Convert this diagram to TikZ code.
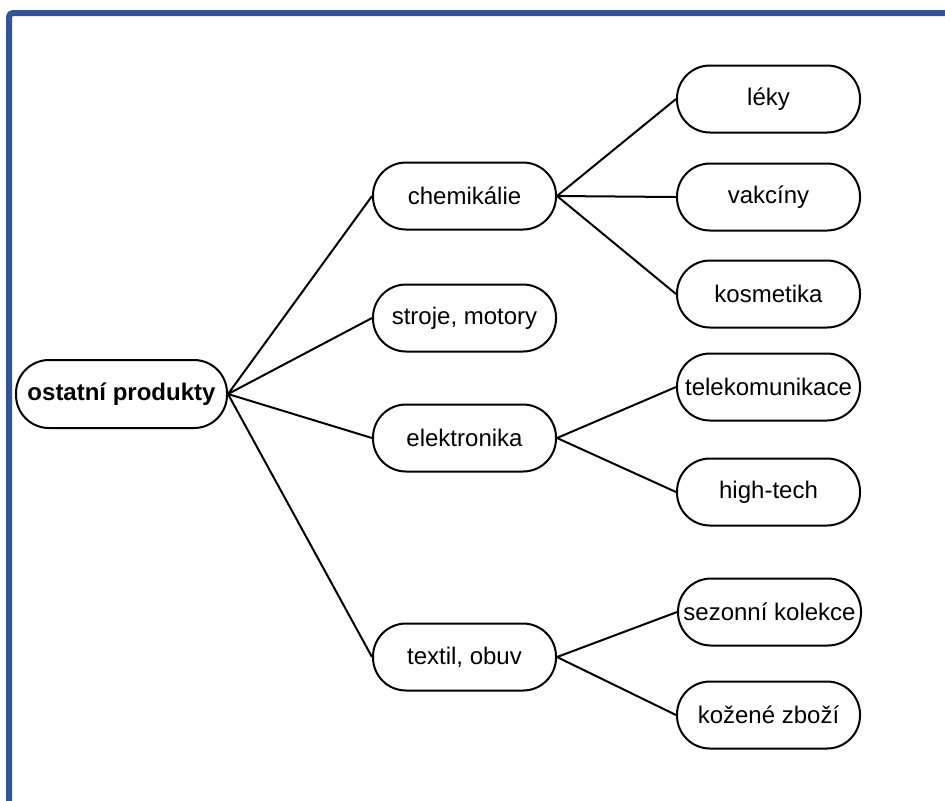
\documentclass[tikz,border=0pt]{standalone}
\usepackage{fontspec}
\setmainfont{Liberation Sans}
\definecolor{framblue}{RGB}{47,85,151}
\begin{document}
\begin{tikzpicture}[x=0.5pt, y=-0.5pt, box_style/.style={draw=black, line width=1pt, fill=white, rounded corners=16.5pt, minimum width=91.5pt, minimum height=33.5pt, inner sep=0pt, font=\fontsize{12}{14}\selectfont}, root_style/.style={box_style, minimum width=105.5pt, minimum height=34pt, font=\fontsize{12}{14}\selectfont\bfseries}, edge_style/.style={draw=black, line width=1pt}, frame_style/.style={draw=framblue, line width=3pt, rounded corners=2pt}]
      \clip (0,0) rectangle (945,800);
      \draw[frame_style] (9,830) -- (9,13) -- (960,13);
      \draw
        (121.5, 394) node[root_style] (root){ostatní produkty}
        (464.5, 196) node[box_style] (chem){chemikálie}
        (464.5, 318) node[box_style] (stroje){stroje, motory}
        (464.5, 438) node[box_style] (elektro){elektronika}
        (464.5, 657) node[box_style] (textil){textil, obuv}
        (768.5, 99) node[box_style] (leky){léky}
        (768.5, 197) node[box_style] (vakciny){vakcíny}
        (768.5, 294) node[box_style] (kosmetika){kosmetika}
        (768.5, 387) node[box_style] (telekom){telekomunikace}
        (768.5, 492) node[box_style] (hightech){high-tech}
        (769.5, 612) node[box_style] (sezon){sezonní kolekce}
        (768.5, 715) node[box_style] (kozene){kožené zboží};
      \begin{scope}[-]
        \draw[edge_style] (root.east) -- (chem.west);
        \draw[edge_style] (root.east) -- (stroje.west);
        \draw[edge_style] (root.east) -- (elektro.west);
        \draw[edge_style] (root.east) -- (textil.west);
        \draw[edge_style] (chem.east) -- (leky.west);
        \draw[edge_style] (chem.east) -- (vakciny.west);
        \draw[edge_style] (chem.east) -- (kosmetika.west);
        \draw[edge_style] (elektro.east) -- (telekom.west);
        \draw[edge_style] (elektro.east) -- (hightech.west);
        \draw[edge_style] (textil.east) -- (sezon.west);
        \draw[edge_style] (textil.east) -- (kozene.west);
      \end{scope}
    \end{tikzpicture}
\end{document}
